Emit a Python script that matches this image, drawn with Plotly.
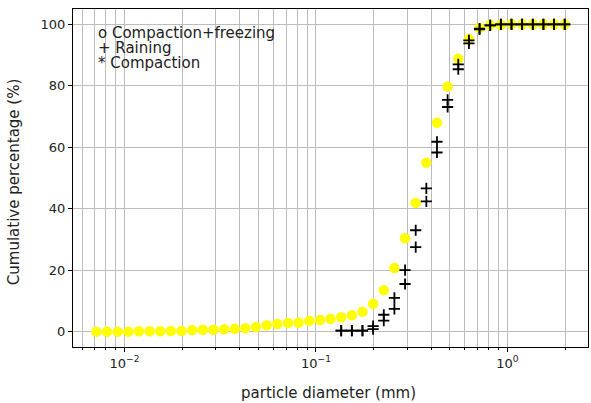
import plotly.graph_objects as go

# particle diameters (mm) of the sieve classes
diameter_mm = [0.00713, 0.00810, 0.00921, 0.01047, 0.01190, 0.01352, 0.01537, 0.01747,
               0.01985, 0.02257, 0.02564, 0.02915, 0.03313, 0.03765, 0.04279, 0.04864,
               0.05528, 0.06283, 0.07141, 0.08116, 0.09226, 0.1049, 0.1192, 0.1355,
               0.1540, 0.1750, 0.1989, 0.2261, 0.2569, 0.2920, 0.3319, 0.3772,
               0.4287, 0.4873, 0.5539, 0.6295, 0.7155, 0.8132, 0.9243, 1.0505,
               1.1940, 1.3571, 1.5424, 1.7531, 1.9925]

compaction_freezing = [0.0, 0.0, 0.0, 0.0, 0.1, 0.1, 0.1, 0.2, 0.2,
                       0.5, 0.6, 0.6, 0.8, 0.9, 1.1, 1.5, 2.1, 2.5, 2.8, 3.0,
                       3.5, 3.8, 4.2, 4.7, 5.3, 6.5, 9.1, 13.5, 20.7, 30.4,
                       41.9, 55.0, 68.0, 79.8, 88.8, 95.2, 98.8, 99.8, 99.9,
                       100.0, 100.0, 100.0, 100.0, 100.0, 100.0]

raining_diameter = [0.1355, 0.1540, 0.1750, 0.1989, 0.2261, 0.2569, 0.2920, 0.3319,
                    0.3772, 0.4287, 0.4873, 0.5539, 0.6295, 0.7155, 0.8132, 0.9243,
                    1.0505, 1.1940, 1.3571, 1.5424, 1.7531, 1.9925]
raining_a = [0.3, 0.3, 0.3, 0.8, 3.6, 7.4, 15.5, 27.5, 42.4, 58.3, 73.1, 85.4,
             93.8, 98.4, 99.7, 100.0, 100.0, 100.0, 100.0, 100.0, 100.0, 100.0]
raining_b = [0.3, 0.3, 0.3, 1.8, 5.5, 11.0, 20.0, 33.0, 46.6, 61.8, 75.4, 87.0,
             94.8, 98.6, 99.7, 100.0, 100.0, 100.0, 100.0, 100.0, 100.0, 100.0]

legend_lines = ["o Compaction+freezing", "+ Raining", "* Compaction"]
y_ticks = [0, 20, 40, 60, 80, 100]
x_major = [0.01, 0.1, 1.0]
x_major_text = ["10<sup>−2</sup>", "10<sup>−1</sup>", "10<sup>0</sup>"]
x_title = "particle diameter (mm)"
y_title = "Cumulative percentage (%)"

FONT = "DejaVu Sans"
GRID = "#bdbdbd"
TXT = "#222"

minor_vals = []
for dec in [0.001, 0.01, 0.1, 1.0]:
    for m in range(2, 10):
        minor_vals.append(round(m * dec, 6))

fig = go.Figure()
fig.add_trace(go.Scatter(x=diameter_mm, y=compaction_freezing, mode="markers",
                         marker=dict(symbol="circle", size=10.5, color="#ffff00",
                                     line=dict(width=0)),
                         showlegend=False))
for ys in (raining_a, raining_b):
    fig.add_trace(go.Scatter(x=raining_diameter, y=ys, mode="markers",
                             marker=dict(symbol="cross-thin", size=8,
                                         line=dict(width=1.8, color="black"),
                                         color="black"),
                             showlegend=False))

ypos = [0.930, 0.884, 0.840]
for txt, yp in zip(legend_lines, ypos):
    fig.add_annotation(text=txt, xref="x domain", yref="y domain", x=0.044, y=yp,
                       xanchor="left", yanchor="middle", showarrow=False,
                       font=dict(family=FONT, size=15, color=TXT))

# axis titles
fig.add_annotation(text=x_title, xref="paper", yref="paper", x=0.496, y=-0.136,
                   xanchor="center", yanchor="middle", showarrow=False,
                   font=dict(family=FONT, size=15, color=TXT))
fig.add_annotation(text=y_title, xref="paper", yref="paper", x=-0.113, y=0.49,
                   xanchor="center", yanchor="middle", showarrow=False, textangle=-90,
                   font=dict(family=FONT, size=15, color=TXT))

fig.update_xaxes(type="log", range=[-2.269, 0.421],
                 tickmode="array", tickvals=x_major, ticktext=x_major_text,
                 ticks="outside", ticklen=4, tickwidth=1, tickcolor="black",
                 showgrid=True, gridcolor=GRID, gridwidth=1,
                 showline=True, linecolor="black", linewidth=1, mirror=True,
                 zeroline=False,
                 minor=dict(tickmode="array", tickvals=minor_vals, ticks="outside",
                            ticklen=2, tickcolor="black", showgrid=True,
                            gridcolor=GRID, gridwidth=1),
                 tickfont=dict(family=FONT, size=13, color=TXT))
fig.update_yaxes(range=[-5, 105], tickmode="array", tickvals=y_ticks,
                 ticks="outside", ticklen=4, tickwidth=1, tickcolor="black",
                 showgrid=True, gridcolor=GRID, gridwidth=1,
                 showline=True, linecolor="black", linewidth=1, mirror=True,
                 zeroline=False,
                 tickfont=dict(family=FONT, size=13, color=TXT))

fig.update_layout(width=591, height=403,
                  margin=dict(l=73, r=3, t=9, b=56),
                  plot_bgcolor="white", paper_bgcolor="white",
                  font=dict(family=FONT))

fig.write_html("out.html")
